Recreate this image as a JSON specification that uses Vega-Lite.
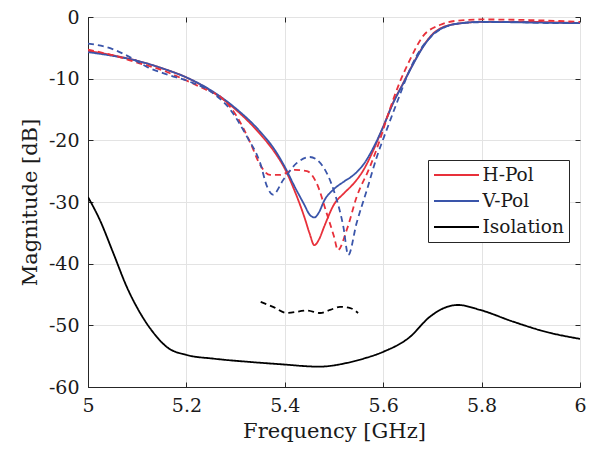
{
  "$schema": "https://vega.github.io/schema/vega-lite/v6.json",
  "width": 492,
  "height": 370,
  "autosize": "none",
  "padding": {"left": 88, "top": 17, "right": 12, "bottom": 69},
  "background": "white",
  "config": {
    "view": {"stroke": "#262626", "strokeWidth": 1},
    "font": "DejaVu Serif",
    "axis": {
      "labelFont": "DejaVu Serif",
      "titleFont": "DejaVu Serif",
      "labelFontSize": 19,
      "titleFontSize": 21,
      "titleFontWeight": "normal",
      "labelColor": "#1a1a1a",
      "titleColor": "#1a1a1a",
      "domainColor": "#262626",
      "tickColor": "#262626",
      "gridColor": "#e3e3e3",
      "gridWidth": 1,
      "tickSize": -5,
      "labelPadding": 14,
      "labelFlush": false
    },
    "legend": {
      "orient": "none",
      "legendX": 340,
      "legendY": 143,
      "strokeColor": "#262626",
      "fillColor": "white",
      "padding": 5,
      "symbolType": "M-2.5,0H2.5",
      "symbolSize": 324,
      "symbolOffset": 13.5,
      "symbolStrokeWidth": 2,
      "labelFont": "DejaVu Serif",
      "labelFontSize": 18.5,
      "labelColor": "#1a1a1a",
      "labelOffset": 16,
      "rowPadding": 6
    }
  },
  "data": {
    "values": [
      {"f": 5.00, "m": -5.5, "series": "H-Pol", "kind": "sim"},
      {"f": 5.05, "m": -6.2, "series": "H-Pol", "kind": "sim"},
      {"f": 5.10, "m": -7.1, "series": "H-Pol", "kind": "sim"},
      {"f": 5.15, "m": -8.3, "series": "H-Pol", "kind": "sim"},
      {"f": 5.20, "m": -9.8, "series": "H-Pol", "kind": "sim"},
      {"f": 5.25, "m": -12.0, "series": "H-Pol", "kind": "sim"},
      {"f": 5.30, "m": -15.0, "series": "H-Pol", "kind": "sim"},
      {"f": 5.35, "m": -19.0, "series": "H-Pol", "kind": "sim"},
      {"f": 5.38, "m": -22.0, "series": "H-Pol", "kind": "sim"},
      {"f": 5.40, "m": -24.6, "series": "H-Pol", "kind": "sim"},
      {"f": 5.42, "m": -28.2, "series": "H-Pol", "kind": "sim"},
      {"f": 5.44, "m": -32.5, "series": "H-Pol", "kind": "sim"},
      {"f": 5.45, "m": -35.0, "series": "H-Pol", "kind": "sim"},
      {"f": 5.46, "m": -37.0, "series": "H-Pol", "kind": "sim"},
      {"f": 5.47, "m": -36.0, "series": "H-Pol", "kind": "sim"},
      {"f": 5.48, "m": -34.0, "series": "H-Pol", "kind": "sim"},
      {"f": 5.50, "m": -30.4, "series": "H-Pol", "kind": "sim"},
      {"f": 5.52, "m": -28.6, "series": "H-Pol", "kind": "sim"},
      {"f": 5.54, "m": -27.0, "series": "H-Pol", "kind": "sim"},
      {"f": 5.56, "m": -24.8, "series": "H-Pol", "kind": "sim"},
      {"f": 5.58, "m": -21.6, "series": "H-Pol", "kind": "sim"},
      {"f": 5.60, "m": -17.8, "series": "H-Pol", "kind": "sim"},
      {"f": 5.62, "m": -13.9, "series": "H-Pol", "kind": "sim"},
      {"f": 5.64, "m": -10.8, "series": "H-Pol", "kind": "sim"},
      {"f": 5.66, "m": -7.7, "series": "H-Pol", "kind": "sim"},
      {"f": 5.68, "m": -4.9, "series": "H-Pol", "kind": "sim"},
      {"f": 5.70, "m": -2.8, "series": "H-Pol", "kind": "sim"},
      {"f": 5.72, "m": -1.7, "series": "H-Pol", "kind": "sim"},
      {"f": 5.75, "m": -1.1, "series": "H-Pol", "kind": "sim"},
      {"f": 5.80, "m": -0.8, "series": "H-Pol", "kind": "sim"},
      {"f": 5.90, "m": -0.8, "series": "H-Pol", "kind": "sim"},
      {"f": 6.00, "m": -1.0, "series": "H-Pol", "kind": "sim"},

      {"f": 5.00, "m": -5.7, "series": "V-Pol", "kind": "sim"},
      {"f": 5.05, "m": -6.3, "series": "V-Pol", "kind": "sim"},
      {"f": 5.10, "m": -7.1, "series": "V-Pol", "kind": "sim"},
      {"f": 5.15, "m": -8.3, "series": "V-Pol", "kind": "sim"},
      {"f": 5.20, "m": -9.8, "series": "V-Pol", "kind": "sim"},
      {"f": 5.25, "m": -11.9, "series": "V-Pol", "kind": "sim"},
      {"f": 5.30, "m": -14.8, "series": "V-Pol", "kind": "sim"},
      {"f": 5.35, "m": -18.6, "series": "V-Pol", "kind": "sim"},
      {"f": 5.38, "m": -21.6, "series": "V-Pol", "kind": "sim"},
      {"f": 5.40, "m": -24.3, "series": "V-Pol", "kind": "sim"},
      {"f": 5.42, "m": -27.5, "series": "V-Pol", "kind": "sim"},
      {"f": 5.44, "m": -30.5, "series": "V-Pol", "kind": "sim"},
      {"f": 5.45, "m": -32.0, "series": "V-Pol", "kind": "sim"},
      {"f": 5.46, "m": -32.5, "series": "V-Pol", "kind": "sim"},
      {"f": 5.47, "m": -31.6, "series": "V-Pol", "kind": "sim"},
      {"f": 5.48, "m": -29.8, "series": "V-Pol", "kind": "sim"},
      {"f": 5.50, "m": -27.9, "series": "V-Pol", "kind": "sim"},
      {"f": 5.52, "m": -26.7, "series": "V-Pol", "kind": "sim"},
      {"f": 5.54, "m": -25.6, "series": "V-Pol", "kind": "sim"},
      {"f": 5.56, "m": -23.9, "series": "V-Pol", "kind": "sim"},
      {"f": 5.58, "m": -21.2, "series": "V-Pol", "kind": "sim"},
      {"f": 5.60, "m": -17.8, "series": "V-Pol", "kind": "sim"},
      {"f": 5.62, "m": -14.0, "series": "V-Pol", "kind": "sim"},
      {"f": 5.64, "m": -10.9, "series": "V-Pol", "kind": "sim"},
      {"f": 5.66, "m": -7.8, "series": "V-Pol", "kind": "sim"},
      {"f": 5.68, "m": -5.0, "series": "V-Pol", "kind": "sim"},
      {"f": 5.70, "m": -2.9, "series": "V-Pol", "kind": "sim"},
      {"f": 5.72, "m": -1.8, "series": "V-Pol", "kind": "sim"},
      {"f": 5.75, "m": -1.1, "series": "V-Pol", "kind": "sim"},
      {"f": 5.80, "m": -0.8, "series": "V-Pol", "kind": "sim"},
      {"f": 5.90, "m": -0.9, "series": "V-Pol", "kind": "sim"},
      {"f": 6.00, "m": -1.0, "series": "V-Pol", "kind": "sim"},

      {"f": 5.00, "m": -5.3, "series": "H-Pol", "kind": "meas"},
      {"f": 5.05, "m": -6.2, "series": "H-Pol", "kind": "meas"},
      {"f": 5.10, "m": -7.4, "series": "H-Pol", "kind": "meas"},
      {"f": 5.15, "m": -8.6, "series": "H-Pol", "kind": "meas"},
      {"f": 5.20, "m": -10.3, "series": "H-Pol", "kind": "meas"},
      {"f": 5.24, "m": -11.8, "series": "H-Pol", "kind": "meas"},
      {"f": 5.27, "m": -13.0, "series": "H-Pol", "kind": "meas"},
      {"f": 5.30, "m": -15.8, "series": "H-Pol", "kind": "meas"},
      {"f": 5.33, "m": -20.4, "series": "H-Pol", "kind": "meas"},
      {"f": 5.35, "m": -24.0, "series": "H-Pol", "kind": "meas"},
      {"f": 5.37, "m": -25.6, "series": "H-Pol", "kind": "meas"},
      {"f": 5.39, "m": -25.6, "series": "H-Pol", "kind": "meas"},
      {"f": 5.42, "m": -24.8, "series": "H-Pol", "kind": "meas"},
      {"f": 5.445, "m": -25.0, "series": "H-Pol", "kind": "meas"},
      {"f": 5.465, "m": -27.0, "series": "H-Pol", "kind": "meas"},
      {"f": 5.485, "m": -31.8, "series": "H-Pol", "kind": "meas"},
      {"f": 5.50, "m": -35.6, "series": "H-Pol", "kind": "meas"},
      {"f": 5.508, "m": -37.8, "series": "H-Pol", "kind": "meas"},
      {"f": 5.526, "m": -34.5, "series": "H-Pol", "kind": "meas"},
      {"f": 5.546, "m": -29.2, "series": "H-Pol", "kind": "meas"},
      {"f": 5.573, "m": -24.3, "series": "H-Pol", "kind": "meas"},
      {"f": 5.593, "m": -20.0, "series": "H-Pol", "kind": "meas"},
      {"f": 5.61, "m": -15.8, "series": "H-Pol", "kind": "meas"},
      {"f": 5.634, "m": -10.5, "series": "H-Pol", "kind": "meas"},
      {"f": 5.654, "m": -7.0, "series": "H-Pol", "kind": "meas"},
      {"f": 5.68, "m": -3.2, "series": "H-Pol", "kind": "meas"},
      {"f": 5.715, "m": -1.3, "series": "H-Pol", "kind": "meas"},
      {"f": 5.75, "m": -0.6, "series": "H-Pol", "kind": "meas"},
      {"f": 5.80, "m": -0.4, "series": "H-Pol", "kind": "meas"},
      {"f": 5.90, "m": -0.5, "series": "H-Pol", "kind": "meas"},
      {"f": 6.00, "m": -0.8, "series": "H-Pol", "kind": "meas"},

      {"f": 5.00, "m": -4.3, "series": "V-Pol", "kind": "meas"},
      {"f": 5.05, "m": -5.2, "series": "V-Pol", "kind": "meas"},
      {"f": 5.085, "m": -6.5, "series": "V-Pol", "kind": "meas"},
      {"f": 5.12, "m": -8.1, "series": "V-Pol", "kind": "meas"},
      {"f": 5.16, "m": -9.3, "series": "V-Pol", "kind": "meas"},
      {"f": 5.207, "m": -10.5, "series": "V-Pol", "kind": "meas"},
      {"f": 5.255, "m": -12.4, "series": "V-Pol", "kind": "meas"},
      {"f": 5.289, "m": -15.0, "series": "V-Pol", "kind": "meas"},
      {"f": 5.323, "m": -19.4, "series": "V-Pol", "kind": "meas"},
      {"f": 5.35, "m": -23.7, "series": "V-Pol", "kind": "meas"},
      {"f": 5.364, "m": -27.5, "series": "V-Pol", "kind": "meas"},
      {"f": 5.376, "m": -28.8, "series": "V-Pol", "kind": "meas"},
      {"f": 5.397, "m": -26.4, "series": "V-Pol", "kind": "meas"},
      {"f": 5.424, "m": -23.7, "series": "V-Pol", "kind": "meas"},
      {"f": 5.451, "m": -22.7, "series": "V-Pol", "kind": "meas"},
      {"f": 5.478, "m": -24.3, "series": "V-Pol", "kind": "meas"},
      {"f": 5.499, "m": -28.0, "series": "V-Pol", "kind": "meas"},
      {"f": 5.519, "m": -34.0, "series": "V-Pol", "kind": "meas"},
      {"f": 5.529, "m": -38.6, "series": "V-Pol", "kind": "meas"},
      {"f": 5.546, "m": -33.4, "series": "V-Pol", "kind": "meas"},
      {"f": 5.567, "m": -28.0, "series": "V-Pol", "kind": "meas"},
      {"f": 5.587, "m": -22.7, "series": "V-Pol", "kind": "meas"},
      {"f": 5.607, "m": -18.3, "series": "V-Pol", "kind": "meas"},
      {"f": 5.634, "m": -12.6, "series": "V-Pol", "kind": "meas"},
      {"f": 5.648, "m": -9.7, "series": "V-Pol", "kind": "meas"},
      {"f": 5.67, "m": -6.0, "series": "V-Pol", "kind": "meas"},
      {"f": 5.70, "m": -3.0, "series": "V-Pol", "kind": "meas"},
      {"f": 5.73, "m": -1.5, "series": "V-Pol", "kind": "meas"},
      {"f": 5.77, "m": -0.9, "series": "V-Pol", "kind": "meas"},
      {"f": 5.85, "m": -0.8, "series": "V-Pol", "kind": "meas"},
      {"f": 5.95, "m": -1.0, "series": "V-Pol", "kind": "meas"},
      {"f": 6.00, "m": -1.0, "series": "V-Pol", "kind": "meas"},

      {"f": 5.00, "m": -29.2, "series": "Isolation", "kind": "sim"},
      {"f": 5.024, "m": -32.9, "series": "Isolation", "kind": "sim"},
      {"f": 5.051, "m": -38.2, "series": "Isolation", "kind": "sim"},
      {"f": 5.079, "m": -43.8, "series": "Isolation", "kind": "sim"},
      {"f": 5.106, "m": -48.0, "series": "Isolation", "kind": "sim"},
      {"f": 5.133, "m": -51.2, "series": "Isolation", "kind": "sim"},
      {"f": 5.16, "m": -53.5, "series": "Isolation", "kind": "sim"},
      {"f": 5.20, "m": -54.8, "series": "Isolation", "kind": "sim"},
      {"f": 5.255, "m": -55.4, "series": "Isolation", "kind": "sim"},
      {"f": 5.323, "m": -55.9, "series": "Isolation", "kind": "sim"},
      {"f": 5.39, "m": -56.3, "series": "Isolation", "kind": "sim"},
      {"f": 5.47, "m": -56.7, "series": "Isolation", "kind": "sim"},
      {"f": 5.526, "m": -56.1, "series": "Isolation", "kind": "sim"},
      {"f": 5.56, "m": -55.4, "series": "Isolation", "kind": "sim"},
      {"f": 5.60, "m": -54.3, "series": "Isolation", "kind": "sim"},
      {"f": 5.654, "m": -51.9, "series": "Isolation", "kind": "sim"},
      {"f": 5.695, "m": -48.6, "series": "Isolation", "kind": "sim"},
      {"f": 5.73, "m": -47.0, "series": "Isolation", "kind": "sim"},
      {"f": 5.752, "m": -46.7, "series": "Isolation", "kind": "sim"},
      {"f": 5.797, "m": -47.5, "series": "Isolation", "kind": "sim"},
      {"f": 5.864, "m": -49.4, "series": "Isolation", "kind": "sim"},
      {"f": 5.933, "m": -51.1, "series": "Isolation", "kind": "sim"},
      {"f": 6.00, "m": -52.2, "series": "Isolation", "kind": "sim"},

      {"f": 5.351, "m": -46.2, "series": "Isolation", "kind": "meas"},
      {"f": 5.376, "m": -47.0, "series": "Isolation", "kind": "meas"},
      {"f": 5.404, "m": -48.0, "series": "Isolation", "kind": "meas"},
      {"f": 5.445, "m": -47.6, "series": "Isolation", "kind": "meas"},
      {"f": 5.472, "m": -48.0, "series": "Isolation", "kind": "meas"},
      {"f": 5.492, "m": -47.5, "series": "Isolation", "kind": "meas"},
      {"f": 5.512, "m": -47.0, "series": "Isolation", "kind": "meas"},
      {"f": 5.533, "m": -47.2, "series": "Isolation", "kind": "meas"},
      {"f": 5.549, "m": -48.0, "series": "Isolation", "kind": "meas"}
    ]
  },
  "layer": [
    {
      "mark": {"type": "line", "strokeWidth": 1.8, "interpolate": "monotone", "clip": true},
      "encoding": {
        "x": {
          "field": "f", "type": "quantitative",
          "scale": {"domain": [5, 6], "nice": false, "zero": false},
          "axis": {"orient": "bottom", "values": [5, 5.2, 5.4, 5.6, 5.8, 6], "format": "~g", "title": "Frequency [GHz]", "titlePadding": 5}
        },
        "y": {
          "field": "m", "type": "quantitative",
          "scale": {"domain": [-60, 0], "nice": false},
          "axis": {"orient": "left", "values": [-60, -50, -40, -30, -20, -10, 0], "labelExpr": "'' + datum.value", "title": "Magnitude [dB]", "titlePadding": 8}
        },
        "color": {
          "field": "series", "type": "nominal",
          "scale": {"domain": ["H-Pol", "V-Pol", "Isolation"], "range": ["#E8303A", "#3A55AA", "#000000"]},
          "legend": {"title": null}
        },
        "strokeDash": {
          "field": "kind", "type": "nominal",
          "scale": {"domain": ["sim", "meas"], "range": [[1, 0], [6, 4]]},
          "legend": null
        },
        "detail": {"field": "kind"}
      }
    },
    {
      "mark": {"type": "point", "opacity": 0},
      "encoding": {
        "x": {
          "field": "f", "type": "quantitative",
          "scale": {"domain": [5, 6], "nice": false, "zero": false},
          "axis": {"orient": "top", "values": [5, 5.2, 5.4, 5.6, 5.8, 6], "labels": false, "grid": false, "title": null, "domain": false}
        },
        "y": {
          "field": "m", "type": "quantitative",
          "scale": {"domain": [-60, 0], "nice": false},
          "axis": {"orient": "right", "values": [-60, -50, -40, -30, -20, -10, 0], "labels": false, "grid": false, "title": null, "domain": false}
        }
      }
    }
  ],
  "resolve": {"axis": {"x": "independent", "y": "independent"}}
}
